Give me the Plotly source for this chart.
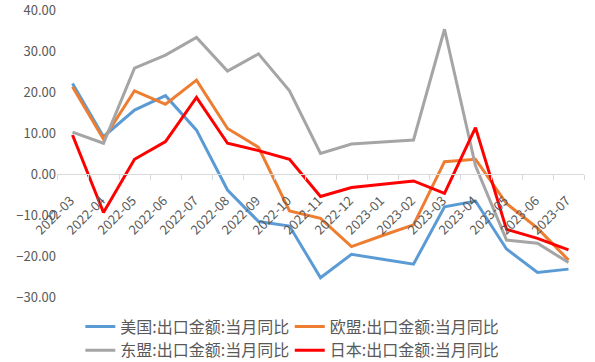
import plotly.graph_objects as go

months = ["2022-03", "2022-04", "2022-05", "2022-06", "2022-07", "2022-08", "2022-09",
          "2022-10", "2022-11", "2022-12", "2023-01", "2023-02", "2023-03", "2023-04",
          "2023-05", "2023-06", "2023-07"]

usa = [22.1, 9.1, 15.6, 19.1, 10.7, -3.9, -11.6, -12.7, -25.3, -19.6, -20.8, -22.0,
       -8.0, -6.6, -18.3, -24.0, -23.2]
eu = [21.3, 8.5, 20.3, 17.0, 22.9, 11.1, 6.5, -9.0, -10.8, -17.7, -15.0, -12.4,
      3.0, 3.6, -7.2, -13.2, -21.0]
asean = [10.2, 7.5, 25.8, 29.0, 33.3, 25.1, 29.3, 20.3, 5.0, 7.3, 7.8, 8.3,
         35.3, 2.0, -16.1, -16.9, -21.6]
japan = [9.5, -9.4, 3.6, 7.9, 18.7, 7.5, 5.7, 3.6, -5.5, -3.3, -2.5, -1.7,
         -4.7, 11.3, -13.5, -15.7, -18.5]
yticks = [-30, -20, -10, 0, 10, 20, 30, 40]

names = ["美国:出口金额:当月同比", "欧盟:出口金额:当月同比",
         "东盟:出口金额:当月同比", "日本:出口金额:当月同比"]
colors = ["#5B9BD5", "#ED7D31", "#A5A5A5", "#FF0000"]
series = [usa, eu, asean, japan]
legend_ids = ["legend", "legend2", "legend", "legend2"]

fig = go.Figure()
for nm, c, s, lg in zip(names, colors, series, legend_ids):
    fig.add_trace(go.Scatter(x=months, y=s, name=nm, mode="lines",
                             line=dict(color=c, width=3), legend=lg))

font_family = "Noto Sans CJK SC, Liberation Sans, sans-serif"
ymin, ymax = -30, 40

legend_common = dict(orientation="v", xref="container", yref="container",
                     y=0.145, xanchor="left", yanchor="top",
                     font=dict(size=16, color="#595959"),
                     tracegroupgap=0, itemwidth=30, bgcolor="rgba(0,0,0,0)")

fig.update_layout(
    width=595, height=362,
    margin=dict(l=57, r=11, t=10, b=65, autoexpand=False),
    paper_bgcolor="white", plot_bgcolor="white",
    font=dict(family=font_family, color="#595959", size=13),
    showlegend=True,
    legend=dict(x=0.135, **legend_common),
    legend2=dict(x=0.487, **legend_common),
    xaxis=dict(type="category", anchor="free",
               range=[-0.5, len(months) - 0.5],
               position=(0 - ymin) / (ymax - ymin),
               showline=True, linecolor="#D9D9D9", linewidth=1,
               ticks="outside", tickcolor="#D9D9D9", ticklen=5,
               tickson="boundaries", tickangle=-45,
               ticklabelstandoff=13, ticklabelshift=-2,
               ticklabeloverflow="allow",
               showgrid=False, zeroline=False,
               tickfont=dict(size=13, color="#595959"),
               automargin=False),
    yaxis=dict(range=[ymin, ymax], tickvals=yticks,
               tickformat=".2f", ticklabeloverflow="allow",
               showgrid=False, zeroline=False, showline=False,
               ticks="", tickfont=dict(size=13, color="#595959"),
               automargin=False),
)

fig.write_html("out.html", config={"displayModeBar": False},
               post_script="document.body.style.margin='0';document.body.style.overflow='hidden';")
